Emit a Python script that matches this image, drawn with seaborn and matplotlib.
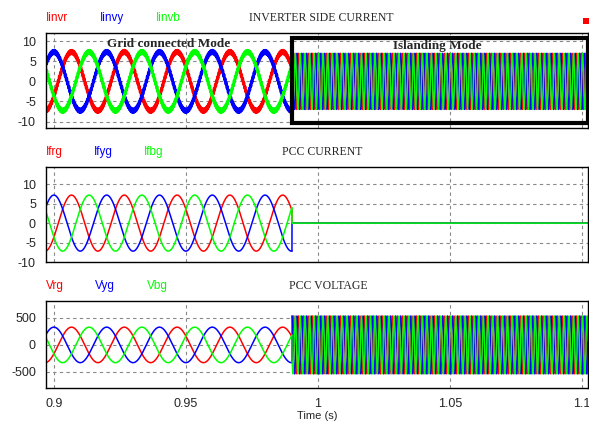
import numpy as np
import matplotlib
matplotlib.use("Agg")
import matplotlib.pyplot as plt
from matplotlib.patches import Rectangle
import seaborn as sns

# waveform parameters
t_start, t_end = 0.8969, 1.1024
t_island = 0.9902
f_grid = 50.0          # Hz, grid connected mode
f_isl = 560.0          # Hz, apparent frequency after islanding
ripple_f = 2300.0

inv_names = ["Iinvr", "Iinvy", "Iinvb"]
pcc_i_names = ["Ifrg", "Ifyg", "Ifbg"]
pcc_v_names = ["Vrg", "Vyg", "Vbg"]
phase_colors = ["#ff0000", "#0000ff", "#00ff00"]
phase_shift_deg = [-120, 0, -240]   # red, blue, green relative to blue

inv_amp_grid, inv_amp_isl, inv_ripple = 7.3, 7.0, 0.45
pcc_i_amp = 7.2
pcc_v_amp_grid, pcc_v_amp_isl = 330, 540

titles = ["INVERTER SIDE CURRENT", "PCC CURRENT", "PCC VOLTAGE"]
yticks_list = [[10, 5, 0, -5, -10], [10, 5, 0, -5, -10], [500, 0, -500]]
ylims = [(-11.6, 12.0), (-10.0, 14.4), (-800, 815)]
xticks = [0.9, 0.95, 1.0, 1.05, 1.1]
xticklabels = ["0.9", "0.95", "1", "1.05", "1.1"]

t = np.linspace(t_start, t_end, 24000)
grid_mode = t < t_island


def wave(amp_grid, amp_isl, shift, ripple=0.0):
    ph = np.deg2rad(shift)
    g = amp_grid * np.cos(2 * np.pi * f_grid * (t - 0.9) + ph)
    g = g + ripple * np.sin(2 * np.pi * ripple_f * t + ph)
    i = amp_isl * np.cos(2 * np.pi * f_isl * (t - t_island) + ph + 0.6 * np.sin(2 * np.pi * 50 * t))
    return np.where(grid_mode, g, i)


inv = [wave(inv_amp_grid, inv_amp_isl, s, inv_ripple) for s in phase_shift_deg]
pcc_i = [wave(pcc_i_amp, 0.0, s) for s in phase_shift_deg]
pcc_v = [wave(pcc_v_amp_grid, pcc_v_amp_isl, s) for s in phase_shift_deg]

sns.set_style("white")
plt.rcParams["font.family"] = ["Liberation Sans", "DejaVu Sans"]

fig = plt.figure(figsize=(5.89, 4.24), dpi=100)
boxes = [[0.0776, 0.698, 0.921, 0.224],
         [0.0776, 0.382, 0.921, 0.224],
         [0.0776, 0.085, 0.921, 0.205]]
label_x = [[0.0776, 0.170, 0.265], [0.0776, 0.160, 0.245], [0.0776, 0.161, 0.250]]
label_y = [0.958, 0.641, 0.325]
title_x = [0.545, 0.547, 0.558]

series = [inv, pcc_i, pcc_v]
names = [inv_names, pcc_i_names, pcc_v_names]
grid_lw = [2.0, 1.1, 1.1]
isl_lw = [0.9, 1.1, 0.9]

for k in range(3):
    ax = fig.add_axes(boxes[k])
    for j in range(3):
        y = series[k][j]
        # grid connected part and islanding part
        sns.lineplot(x=t[grid_mode], y=y[grid_mode], color=phase_colors[j],
                     linewidth=grid_lw[k], estimator=None, sort=False, ax=ax)
        sns.lineplot(x=t[~grid_mode], y=y[~grid_mode], color=phase_colors[j],
                     linewidth=isl_lw[k], estimator=None, sort=False, ax=ax)
        ax.plot([t[grid_mode][-1], t[~grid_mode][0]],
                [y[grid_mode][-1], y[~grid_mode][0]],
                color=phase_colors[j], linewidth=isl_lw[k])
        fig.text(label_x[k][j], label_y[k], names[k][j], color=phase_colors[j],
                 fontsize=8.5, va="center", ha="left")
    fig.text(title_x[k], label_y[k], titles[k], family="Liberation Serif", fontsize=8.5,
             va="center", ha="center")
    ax.set_xlim(t_start, t_end)
    ax.set_ylim(*ylims[k])
    ax.set_yticks(yticks_list[k])
    ax.set_yticklabels([str(v) for v in yticks_list[k]], fontsize=9)
    ax.set_xticks(xticks)
    if k == 2:
        ax.set_xticklabels(xticklabels, fontsize=9)
        ax.set_xlabel("Time (s)", fontsize=8, labelpad=1)
    else:
        ax.set_xticklabels([])
    ax.tick_params(length=0, pad=7)
    ax.grid(True, color="#888888", linestyle=(0, (3, 3)), linewidth=0.8)
    for sp in ax.spines.values():
        sp.set_color("black")
        sp.set_linewidth(1.0)
    ax.set_ylabel("")

    if k == 0:
        ax.text(0.9436, 9.4, "Grid connected Mode", family="Liberation Serif",
                fontsize=9.5, fontweight="bold", ha="center", va="center", zorder=6)
        ax.text(1.0451, 8.8, "Islanding Mode", family="Liberation Serif",
                fontsize=9.5, fontweight="bold", ha="center", va="center", zorder=6)
        ax.add_patch(Rectangle((t_island, -10.3), 1.1022 - t_island, 21.0,
                               fill=False, edgecolor="black", linewidth=3, zorder=5))

fig.add_artist(Rectangle((0.990, 0.943), 0.010, 0.014, transform=fig.transFigure,
                         facecolor="#ff0000", edgecolor="none"))

fig.savefig("out.png", dpi=100)
